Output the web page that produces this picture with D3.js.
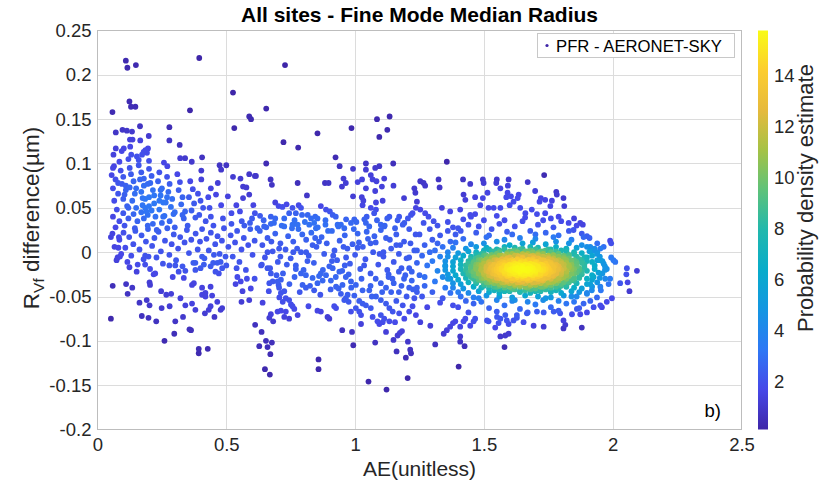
<!DOCTYPE html>
<html>
<head>
<meta charset="utf-8">
<script src="https://cdn.jsdelivr.net/npm/d3@7"></script>
<style>
  body { margin: 0; background: #ffffff; }
  svg { display: block; font-family: "Liberation Sans", Arial, sans-serif; }
</style>
</head>
<body>
<svg id="chart" width="831" height="486"></svg>
<script>
// Axis ticks
const xTicks = [0, 0.5, 1, 1.5, 2, 2.5];
const yTicks = [-0.2, -0.15, -0.1, -0.05, 0, 0.05, 0.1, 0.15, 0.2, 0.25];
const densityTicks = [2, 4, 6, 8, 10, 12, 14];

// Matchups [AE, R_Vf difference (µm)] — low Ångström exponent
const lowAeMatchups = [
  [0.110,0.216],[0.116,0.208],[0.149,0.211],[0.395,0.219],[0.526,0.180],[0.124,0.170],[0.130,0.164],[0.147,0.164],
  [0.058,0.158],[0.359,0.160],[0.589,0.153],[0.596,0.150],[0.531,0.140],[0.165,0.142],[0.097,0.138],[0.114,0.137],
  [0.134,0.136],[0.071,0.135],[0.279,0.141],[0.126,0.127],[0.136,0.127],[0.166,0.126],[0.199,0.131],[0.279,0.126],
  [0.319,0.121],[0.071,0.117],[0.102,0.117],[0.127,0.119],[0.186,0.115],[0.196,0.117],[0.179,0.113],[0.192,0.112],
  [0.173,0.110],[0.062,0.110],[0.094,0.114],[0.131,0.110],[0.153,0.108],[0.321,0.106],[0.340,0.106],[0.406,0.107],
  [0.258,0.101],[0.271,0.097],[0.366,0.102],[0.474,0.098],[0.500,0.098],[0.064,0.097],[0.055,0.087],[0.403,0.092],
  [0.403,0.082],[0.480,0.093],[0.526,0.085],[0.555,0.083],[0.589,0.088],[0.611,0.086],[0.467,0.078],[0.565,0.074],
  [0.578,0.073],[0.589,0.065],[0.605,0.053],[0.611,0.044],[0.592,0.033],[0.565,0.061],[0.506,0.063],[0.539,0.053],
  [0.553,0.046],[0.480,0.053],[0.520,0.044],[0.440,0.072],[0.460,0.065],[0.487,0.038],[0.435,0.050],
  [0.06,0.095],[0.07,0.082],[0.06,0.072],[0.08,0.066],[0.065,0.058],[0.075,0.048],[0.06,0.040],[0.085,0.035],
  [0.07,0.028],[0.09,0.092],[0.10,0.085],[0.095,0.077],[0.11,0.070],[0.10,0.060],[0.115,0.052],[0.10,0.044],
  [0.12,0.038],[0.105,0.030],[0.125,0.095],[0.13,0.088],[0.14,0.080],[0.125,0.073],[0.145,0.066],[0.135,0.058],
  [0.15,0.050],[0.14,0.043],[0.155,0.035],[0.145,0.027],[0.16,0.098],[0.17,0.090],[0.165,0.082],[0.18,0.075],
  [0.17,0.068],[0.185,0.060],[0.175,0.053],[0.19,0.046],[0.18,0.038],[0.195,0.030],[0.2,0.094],[0.21,0.086],
  [0.205,0.078],[0.215,0.070],[0.2,0.062],[0.22,0.055],[0.21,0.047],[0.225,0.040],[0.215,0.032],[0.23,0.025],
  [0.24,0.090],[0.235,0.080],[0.25,0.072],[0.245,0.064],[0.255,0.056],[0.24,0.048],[0.26,0.041],[0.25,0.033],
  [0.27,0.085],[0.28,0.077],[0.275,0.068],[0.29,0.060],[0.285,0.051],[0.295,0.043],[0.28,0.035],[0.30,0.028],
  [0.31,0.088],[0.32,0.079],[0.315,0.070],[0.33,0.062],[0.325,0.054],[0.34,0.046],[0.335,0.038],[0.35,0.030],
  [0.36,0.080],[0.37,0.071],[0.355,0.062],[0.375,0.055],[0.365,0.047],[0.38,0.039],[0.39,0.066],[0.40,0.058],
  [0.41,0.050],[0.395,0.042],[0.42,0.035],[0.43,0.062],[0.44,0.040],[0.45,0.030],[0.12,0.105],[0.16,0.104],
  [0.085,0.102],[0.2,0.103],
  [0.11,0.075],[0.15,0.072],[0.17,0.045],[0.2,0.052],[0.22,0.064],[0.24,0.058],[0.27,0.062],[0.18,0.083],
  [0.12,0.050],[0.195,0.077],[0.255,0.040],[0.30,0.045],[0.185,0.050],[0.245,0.070],[0.105,0.065],[0.08,0.078],
  [0.33,0.042],[0.175,0.061],[0.265,0.056],[0.195,0.042],
  [0.058,0.021],[0.066,0.006],[0.074,-0.009],[0.085,0.014],[0.092,-0.002],[0.101,0.022],[0.108,0.005],[0.116,-0.011],
  [0.123,0.017],[0.131,-0.004],[0.139,0.009],[0.147,0.024],[0.156,-0.014],[0.163,0.003],[0.171,0.019],[0.179,-0.008],
  [0.188,0.012],[0.196,0.026],[0.204,-0.019],[0.212,0.007],[0.221,0.016],[0.229,-0.006],[0.237,0.023],[0.246,0.001],
  [0.254,-0.013],[0.262,0.013],[0.271,0.027],[0.279,-0.003],[0.288,0.009],[0.296,0.020],[0.305,-0.009],[0.313,0.004],
  [0.321,0.017],[0.330,-0.016],[0.338,0.011],[0.347,0.025],[0.355,-0.001],[0.364,0.014],[0.372,-0.012],[0.381,0.021],
  [0.389,0.003],[0.398,0.012],[0.406,0.026],[0.415,-0.007],[0.423,0.015],[0.432,0.002],[0.440,0.022],[0.449,-0.012],
  [0.457,0.009],[0.466,0.018],[0.474,-0.002],[0.483,0.013],[0.491,0.027],[0.500,-0.015],[0.508,0.006],[0.517,0.019],
  [0.525,-0.005],[0.534,0.011],[0.542,0.024],[0.551,-0.011],[0.559,0.003],[0.568,0.016],[0.576,-0.020],[0.585,0.008],
  [0.593,0.026],[0.602,-0.003],[0.610,0.013],
  [0.052,0.017],[0.083,0.017],[0.081,0.005],[0.087,-0.005],[0.078,-0.006],[0.124,-0.017],[0.152,-0.022],[0.059,-0.038],
  [0.111,-0.036],[0.117,-0.047],[0.135,-0.040],[0.052,-0.075],[0.163,-0.057],[0.191,-0.054],[0.202,-0.060],[0.202,-0.034],
  [0.204,-0.037],[0.218,-0.025],[0.224,-0.024],[0.247,-0.044],[0.267,-0.048],[0.286,-0.047],[0.249,-0.063],[0.280,-0.061],
  [0.172,-0.072],[0.198,-0.074],[0.228,-0.078],[0.302,-0.078],[0.332,-0.073],[0.298,-0.092],[0.260,-0.100],[0.357,-0.087],
  [0.363,-0.088],[0.393,-0.109],[0.393,-0.114],[0.428,-0.109],[0.292,-0.028],[0.315,-0.022],[0.335,-0.029],[0.341,-0.021],
  [0.302,-0.015],[0.279,-0.015],[0.367,-0.037],[0.374,-0.035],[0.406,-0.040],[0.419,-0.046],[0.406,-0.048],[0.419,-0.050],
  [0.439,-0.039],[0.445,-0.049],[0.465,-0.056],[0.484,-0.063],[0.478,-0.065],[0.439,-0.061],[0.432,-0.065],[0.417,-0.069],
  [0.380,-0.065],[0.367,-0.058],[0.341,-0.060],[0.322,-0.052],[0.454,-0.073],[0.380,-0.020],[0.400,-0.018],[0.380,-0.012],
  [0.406,-0.005],[0.413,-0.014],[0.439,-0.016],[0.458,-0.022],[0.471,-0.024],[0.484,-0.018],[0.465,-0.012],[0.478,-0.011],
  [0.497,-0.005],[0.452,-0.003],[0.543,-0.028],[0.556,-0.033],[0.536,-0.036],[0.563,-0.044],[0.559,-0.056],[0.589,-0.054],
  [0.595,-0.041],[0.612,-0.082],[0.185,-0.004],[0.198,-0.005],[0.185,-0.014],
  [0.52,0.032],[0.54,-0.018],[0.56,0.035],[0.58,-0.030],[0.60,0.038],[0.57,0.030],[0.61,-0.030]
];

// Matchups — intermediate Ångström exponent
const midAeMatchups = [
  [0.728,0.211],[0.655,0.162],[1.085,0.150],[1.134,0.153],[1.125,0.138],[1.094,0.130],[0.986,0.140],[0.854,0.134],
  [0.722,0.124],[0.779,0.118],[0.924,0.107],[0.655,0.100],[0.615,0.086],[0.940,0.097],[0.992,0.094],[1.042,0.100],
  [1.042,0.093],[1.078,0.095],[1.094,0.097],[1.148,0.100],[0.672,0.082],[0.677,0.076],[0.777,0.078],[0.955,0.083],
  [0.964,0.078],[0.949,0.074],[0.883,0.078],[0.897,0.078],[1.010,0.079],[1.027,0.082],[1.061,0.087],[1.068,0.082],
  [1.083,0.080],[1.042,0.072],[1.078,0.069],[1.113,0.083],[1.104,0.074],[1.149,0.075],[0.813,0.064],[0.992,0.063],
  [1.026,0.062],[1.032,0.058],[1.029,0.053],[1.081,0.056],[1.107,0.058],[1.133,0.040],[1.190,0.061],[1.230,0.072],
  [1.234,0.067],[0.690,0.056],[0.703,0.052],[0.718,0.051],[0.734,0.054],[0.781,0.053],[0.790,0.050],[0.757,0.050],
  [0.744,0.044],[0.770,0.044],[0.794,0.042],[0.631,0.041],[0.673,0.040],[0.690,0.038],[0.647,0.029],[0.673,0.032],
  [0.816,0.042],[0.829,0.038],[0.841,0.033],[0.854,0.038],[0.848,0.027],[0.822,0.031],[0.867,0.052],[0.887,0.048],
  [0.902,0.046],[0.913,0.042],[0.932,0.031],[0.945,0.031],[0.958,0.027],[0.984,0.033],[0.997,0.037],[1.036,0.037],
  [1.042,0.033],[1.074,0.044],[1.081,0.048],[1.061,0.050],[1.100,0.031],[1.113,0.029],[1.171,0.040],[1.191,0.033],
  [1.217,0.042],[1.223,0.044],[1.236,0.050],[0.725,0.029],[0.757,0.031],[0.777,0.031],[0.621,0.027],
  [0.641,-0.057],[0.637,-0.090],[0.628,-0.106],[0.654,-0.100],[0.677,-0.102],[0.660,-0.107],[0.671,-0.115],[0.650,-0.132],
  [0.669,-0.138],[0.858,-0.121],[0.858,-0.132],[1.052,-0.146],[1.122,-0.155],[1.204,-0.142],[0.993,-0.105],[0.950,-0.088],
  [0.988,-0.090],[1.078,-0.102],[1.161,-0.112],[1.149,-0.099],[1.165,-0.094],[1.182,-0.089],[1.174,-0.091],[1.205,-0.101],
  [1.214,-0.110],[1.217,-0.114],[1.197,-0.119],[1.120,-0.090],[1.155,-0.079],[1.023,-0.081],[1.087,-0.078],[1.094,-0.081],
  [1.107,-0.079],[1.068,-0.073],[1.100,-0.071],[0.667,-0.074],[0.682,-0.078],[0.673,-0.070],[0.699,-0.067],[0.712,-0.066],
  [0.731,-0.067],[0.725,-0.073],[0.744,-0.075],[0.764,-0.064],[0.777,-0.071],[0.706,-0.051],[0.719,-0.056],[0.731,-0.052],
  [0.744,-0.054],[0.751,-0.059],[0.757,-0.061],[0.712,-0.046],[0.725,-0.044],[0.703,-0.037],[0.819,-0.061],[0.854,-0.066],
  [0.867,-0.067],[0.893,-0.073],[0.900,-0.075],[0.926,-0.063],[0.919,-0.061],[0.958,-0.054],[0.964,-0.052],[0.975,-0.056],
  [0.984,-0.067],[1.003,-0.063],[1.016,-0.067],[1.023,-0.071],[0.638,-0.014],[0.660,-0.018],[0.667,-0.035],[0.680,-0.033],
  [0.699,-0.033],[0.712,-0.031],[0.673,-0.024],[0.796,-0.037],[0.809,-0.040],[0.841,-0.043],[0.854,-0.035],[0.874,-0.032],
  [0.906,-0.032],[0.926,-0.039],[0.951,-0.037],[0.936,-0.041],[0.971,-0.048],[0.997,-0.049],[1.016,-0.055],[1.029,-0.058],
  [1.042,-0.060],[1.061,-0.063],[0.770,-0.019],[0.790,-0.024],[0.809,-0.026],[0.835,-0.029],[0.867,-0.024],[0.887,-0.026],
  [0.913,-0.018],[0.939,-0.022],[0.964,-0.028],[0.984,-0.033],[1.003,-0.037],[1.029,-0.043],[1.055,-0.043],[1.081,-0.050],
  [1.100,-0.054],[1.120,-0.058],[1.133,-0.063],[1.146,-0.067],[1.113,-0.075],[1.133,-0.078],[1.171,-0.069],[1.191,-0.075],
  [1.210,-0.067],[1.223,-0.061],[1.236,-0.071],
  [1.15,-0.035],[1.17,-0.045],[1.19,-0.030],[1.21,-0.040],[1.23,-0.052],[1.16,-0.055],[1.20,-0.050],[1.22,-0.032],
  [1.18,-0.038],[1.24,-0.045],[1.14,-0.045],[1.12,-0.040],[1.10,-0.035],[1.08,-0.030],[1.06,-0.038],[1.13,-0.025],
  [1.17,-0.022],[1.21,-0.018],
  [0.63,0.024],[0.64,0.008],[0.65,-0.006],[0.66,0.016],[0.67,-0.018],[0.68,0.001],[0.69,0.021],[0.70,-0.011],
  [0.71,0.010],[0.72,-0.024],[0.73,0.003],[0.74,0.018],[0.75,-0.007],[0.76,0.012],[0.77,-0.015],[0.78,0.026],
  [0.79,0.000],[0.80,-0.020],[0.81,0.014],[0.82,-0.004],[0.83,0.022],[0.84,-0.012],[0.85,0.006],[0.86,-0.027],
  [0.87,0.017],[0.88,-0.002],[0.89,0.010],[0.90,-0.016],[0.91,0.024],[0.92,0.002],[0.93,-0.009],[0.94,0.013],
  [0.95,-0.021],[0.96,0.019],[0.97,0.004],[0.98,-0.013],[0.99,0.009],[1.00,-0.003],[1.01,0.021],[1.02,-0.019],
  [1.03,0.006],[1.04,-0.008],[1.05,0.015],[1.06,-0.024],[1.07,0.000],[1.08,0.011],[1.09,-0.014],[1.10,0.025],
  [1.11,-0.005],[1.12,0.016],[1.13,-0.028],[1.14,0.004],[1.15,-0.011],[1.16,0.020],[1.17,-0.002],[1.18,-0.018],
  [1.19,0.012],[1.20,-0.007],[1.21,0.026],[1.22,-0.022],[1.23,0.002],[1.24,-0.012],
  [0.635,-0.015],[0.655,0.028],[0.675,0.012],[0.695,-0.026],[0.715,0.030],[0.735,-0.014],[0.755,0.027],[0.775,0.004],
  [0.795,0.020],[0.815,-0.010],[0.835,0.008],[0.855,0.028],[0.875,-0.020],[0.895,0.024],[0.915,-0.004],[0.935,0.029],
  [0.955,0.006],[0.975,-0.025],[0.995,0.026],[1.015,0.011],[1.035,-0.015],[1.055,0.029],[1.075,0.018],[1.095,-0.002],
  [1.115,0.030],[1.135,0.014],[1.155,0.027],[1.175,0.008],[1.195,-0.026],[1.215,0.010],[1.235,0.020],[0.705,0.004],
  [0.765,-0.028],[0.845,0.016],[0.925,-0.028],[1.045,0.023],[1.125,-0.020],[1.185,0.031],[0.885,0.031],[0.965,-0.006],
  [0.645,0.036],[0.665,-0.044],[0.685,0.033],[0.705,-0.040],[0.725,0.038],[0.745,-0.036],[0.765,0.036],[0.785,-0.045],
  [0.805,0.034],[0.825,-0.038],[0.845,0.040],[0.865,-0.048],[0.885,0.036],[0.905,-0.042],[0.925,0.040],[0.945,-0.047],
  [0.965,0.037],[0.985,-0.040],[1.005,0.034],[1.025,-0.030],[1.045,0.040],[1.065,-0.050],[1.085,0.036],[1.105,-0.045],
  [1.125,0.038],[1.145,-0.030],[1.165,0.036],[1.185,-0.060],[1.205,0.038],[1.225,-0.042],[0.81,0.000],[0.86,0.012],
  [0.91,-0.010],[0.96,-0.015],[1.01,0.005],[1.06,0.010],[1.11,0.000],[1.16,0.008],[1.21,-0.006],[0.71,-0.005],
  [0.76,0.000],[0.66,0.000]
];

// Matchups — high Ångström exponent (fine-mode dominated)
const highAeMatchups = [
  [1.356,0.102],[1.253,0.080],[1.266,0.078],[1.272,0.075],[1.324,0.082],[1.328,0.073],[1.419,0.082],[1.447,0.077],
  [1.496,0.082],[1.499,0.078],[1.550,0.082],[1.548,0.078],[1.564,0.072],[1.596,0.082],[1.593,0.075],[1.670,0.079],
  [1.734,0.087],[1.514,0.067],[1.421,0.065],[1.428,0.059],[1.466,0.062],[1.592,0.067],[1.605,0.063],[1.587,0.062],
  [1.615,0.057],[1.600,0.053],[1.635,0.065],[1.631,0.061],[1.699,0.069],[1.721,0.061],[1.716,0.057],[1.738,0.059],
  [1.764,0.058],[1.781,0.068],[1.783,0.065],[1.809,0.061],[1.812,0.052],[1.496,0.061],[1.486,0.053],[1.518,0.050],
  [1.538,0.050],[1.564,0.050],[1.337,0.050],[1.369,0.046],[1.408,0.048],[1.447,0.042],[1.466,0.043],[1.240,0.057],
  [1.253,0.048],[1.272,0.044],[1.285,0.040],[1.305,0.035],[1.266,0.033],[1.641,0.050],[1.661,0.044],[1.686,0.048],
  [1.706,0.043],[1.738,0.044],[1.758,0.052],[1.790,0.040],[1.829,0.033],[1.848,0.025],
  [1.311,-0.104],[1.408,-0.095],[1.408,-0.101],[1.425,-0.106],[1.402,-0.129],[1.564,-0.095],[1.583,-0.094],[1.596,-0.092],
  [1.580,-0.107],[1.344,-0.092],[1.356,-0.088],[1.369,-0.084],[1.380,-0.080],[1.389,-0.078],[1.408,-0.084],[1.421,-0.078],
  [1.428,-0.075],[1.447,-0.083],[1.460,-0.078],[1.466,-0.075],[1.512,-0.077],[1.518,-0.078],[1.544,-0.085],[1.557,-0.080],
  [1.564,-0.075],[1.589,-0.077],[1.596,-0.081],[1.615,-0.077],[1.628,-0.074],[1.654,-0.079],[1.693,-0.083],[1.732,-0.084],
  [1.809,-0.077],[1.816,-0.082],[1.809,-0.086],[1.292,-0.083],[1.253,-0.079],[1.551,-0.073],[1.583,-0.071],[1.628,-0.071],
  [1.667,-0.069],[1.706,-0.067],[1.732,-0.068],[1.771,-0.067],[1.796,-0.069],[1.842,-0.070],
  [1.874,0.033],[1.884,0.031],[1.887,0.017],[1.900,0.018],[1.990,0.013],[1.994,0.010],[1.952,0.004],[1.965,0.006],
  [1.994,-0.006],[2.003,-0.009],[2.010,-0.011],[2.055,-0.018],[2.094,-0.021],[2.053,-0.025],[2.029,-0.035],[2.058,-0.034],
  [2.065,-0.044],[1.997,-0.052],[1.977,-0.056],[1.952,-0.060],[1.926,-0.062],[1.958,-0.062],[1.880,-0.085],[1.900,-0.068],
  [1.874,-0.070],[1.861,-0.064],[1.971,-0.030],[1.984,-0.036],[1.990,-0.030],[1.952,-0.039],[1.954,-0.043],[1.939,-0.051],
  [1.913,-0.055],[1.900,-0.047],[1.919,-0.043],[1.887,-0.058],[1.926,0.002],[1.913,0.006],[1.939,-0.002],[1.900,-0.006],
  [1.952,-0.009],[1.965,-0.013],[1.977,-0.019],[1.945,-0.023],[1.926,-0.028],[1.913,-0.036],
  [1.25,0.020],[1.27,0.008],[1.26,-0.004],[1.28,-0.015],[1.25,-0.026],[1.27,-0.038],[1.26,-0.050],[1.29,0.026],
  [1.30,0.014],[1.31,0.002],[1.30,-0.010],[1.32,-0.021],[1.31,-0.033],[1.30,-0.045],[1.33,-0.057],[1.33,0.019],
  [1.34,0.006],[1.33,-0.005],[1.35,-0.016],[1.34,-0.028],[1.35,-0.040],[1.34,-0.052],[1.36,0.024],[1.37,0.012],
  [1.36,-0.030],[1.37,-0.046],[1.38,-0.060],[1.39,0.020],[1.40,0.027],[1.28,-0.062],[1.24,0.002],[1.24,-0.040],
  [1.29,0.000],[1.32,0.010],[1.27,-0.028],
  [1.32,0.030],[1.36,0.034],[1.41,0.024],[1.44,0.031],[1.47,0.022],[1.50,0.036],[1.53,0.026],[1.56,0.032],
  [1.59,0.023],[1.62,0.029],[1.65,0.035],[1.68,0.024],[1.71,0.031],[1.74,0.022],[1.77,0.028],[1.80,0.035],
  [1.83,0.024],[1.86,0.030],[1.45,0.040],[1.55,0.041],[1.66,0.039],[1.76,0.038],[1.61,0.020],[1.70,0.020],
  [1.52,0.019],[1.79,0.019],[1.88,0.021],[1.42,0.037],[1.38,0.028],[1.48,0.029],[1.58,0.036],[1.73,0.036],[1.85,0.038],
  [1.40,-0.062],[1.46,-0.058],[1.52,-0.063],[1.58,-0.060],[1.64,-0.064],[1.70,-0.059],[1.76,-0.062],[1.82,-0.058],
  [1.87,-0.063],[1.44,-0.068],[1.55,-0.067],[1.67,-0.068],[1.79,-0.066],[1.48,-0.052],[1.62,-0.054],[1.74,-0.052],[1.84,-0.050],
  [1.42,0.015],[1.51,0.017],[1.58,0.014],[1.64,0.016],[1.70,0.015],[1.77,0.017],[1.84,0.014],[1.91,0.016],
  [1.39,0.011],[1.45,0.009],[1.50,0.010],[1.55,0.012],[1.60,0.008],[1.65,0.010],[1.69,0.011],[1.74,0.009],
  [1.78,0.012],[1.83,0.010],[1.88,0.008],[1.94,0.010],
  [1.38,0.005],[1.43,0.004],[1.47,0.006],[1.51,0.005],[1.55,0.003],[1.58,0.006],[1.62,0.005],[1.65,0.004],
  [1.68,0.006],[1.71,0.005],[1.75,0.003],[1.78,0.006],[1.82,0.004],[1.86,0.005],[1.90,0.006],[1.93,0.004],
  [1.36,0.000],[1.40,-0.001],[1.44,0.001],[1.47,0.000],[1.50,-0.002],[1.53,0.001],[1.56,0.000],[1.59,-0.001],
  [1.61,0.001],[1.63,0.000],[1.65,-0.002],[1.67,0.001],[1.69,0.000],[1.71,-0.001],[1.73,0.001],[1.76,0.000],
  [1.79,-0.002],[1.82,0.001],[1.85,0.000],[1.88,-0.001],[1.91,0.001],[1.94,0.000],
  [1.36,-0.005],[1.39,-0.006],[1.42,-0.004],[1.45,-0.005],[1.48,-0.006],[1.50,-0.004],[1.52,-0.005],[1.54,-0.006],
  [1.56,-0.004],[1.58,-0.005],[1.60,-0.006],[1.62,-0.004],[1.635,-0.005],[1.65,-0.006],[1.665,-0.004],[1.68,-0.005],
  [1.695,-0.006],[1.71,-0.004],[1.73,-0.005],[1.75,-0.006],[1.77,-0.004],[1.79,-0.005],[1.81,-0.006],[1.83,-0.004],
  [1.86,-0.005],[1.89,-0.006],[1.92,-0.004],[1.95,-0.005],
  [1.35,-0.010],[1.38,-0.011],[1.41,-0.009],[1.44,-0.010],[1.46,-0.011],[1.48,-0.009],[1.50,-0.010],[1.52,-0.011],
  [1.54,-0.009],[1.555,-0.010],[1.57,-0.011],[1.585,-0.009],[1.60,-0.010],[1.615,-0.011],[1.63,-0.009],[1.645,-0.010],
  [1.66,-0.011],[1.675,-0.009],[1.69,-0.010],[1.705,-0.011],[1.72,-0.009],[1.735,-0.010],[1.75,-0.011],[1.765,-0.009],
  [1.78,-0.010],[1.80,-0.011],[1.82,-0.009],[1.84,-0.010],[1.86,-0.011],[1.88,-0.009],[1.90,-0.010],[1.92,-0.011],
  [1.94,-0.009],[1.96,-0.010],
  [1.35,-0.015],[1.38,-0.016],[1.41,-0.014],[1.43,-0.015],[1.45,-0.016],[1.47,-0.014],[1.49,-0.015],[1.51,-0.016],
  [1.525,-0.014],[1.54,-0.015],[1.555,-0.016],[1.57,-0.014],[1.58,-0.015],[1.59,-0.016],[1.60,-0.014],[1.61,-0.015],
  [1.62,-0.016],[1.63,-0.014],[1.64,-0.015],[1.65,-0.016],[1.66,-0.014],[1.67,-0.015],[1.68,-0.016],[1.69,-0.014],
  [1.70,-0.015],[1.71,-0.016],[1.72,-0.014],[1.73,-0.015],[1.745,-0.016],[1.76,-0.014],[1.775,-0.015],[1.79,-0.016],
  [1.81,-0.014],[1.83,-0.015],[1.86,-0.016],[1.89,-0.014],[1.93,-0.015],[1.97,-0.016],
  [1.35,-0.020],[1.38,-0.021],[1.41,-0.019],[1.43,-0.020],[1.45,-0.021],[1.47,-0.019],[1.49,-0.020],[1.51,-0.021],
  [1.525,-0.019],[1.54,-0.020],[1.55,-0.021],[1.56,-0.019],[1.57,-0.020],[1.58,-0.021],[1.59,-0.019],[1.60,-0.020],
  [1.61,-0.021],[1.62,-0.019],[1.63,-0.020],[1.64,-0.021],[1.65,-0.019],[1.66,-0.020],[1.67,-0.021],[1.68,-0.019],
  [1.69,-0.020],[1.70,-0.021],[1.71,-0.019],[1.72,-0.020],[1.73,-0.021],[1.74,-0.019],[1.755,-0.020],[1.77,-0.021],
  [1.785,-0.019],[1.80,-0.020],[1.82,-0.021],[1.84,-0.019],[1.87,-0.020],[1.90,-0.021],[1.93,-0.019],[1.97,-0.020],
  [1.36,-0.025],[1.39,-0.026],[1.42,-0.024],[1.44,-0.025],[1.46,-0.026],[1.48,-0.024],[1.50,-0.025],[1.52,-0.026],
  [1.535,-0.024],[1.55,-0.025],[1.565,-0.026],[1.58,-0.024],[1.59,-0.025],[1.60,-0.026],[1.61,-0.024],[1.62,-0.025],
  [1.63,-0.026],[1.64,-0.024],[1.65,-0.025],[1.66,-0.026],[1.67,-0.024],[1.68,-0.025],[1.69,-0.026],[1.70,-0.024],
  [1.71,-0.025],[1.72,-0.026],[1.735,-0.024],[1.75,-0.025],[1.765,-0.026],[1.78,-0.024],[1.80,-0.025],[1.82,-0.026],
  [1.85,-0.024],[1.88,-0.025],[1.92,-0.026],[1.96,-0.024],
  [1.37,-0.030],[1.40,-0.031],[1.43,-0.029],[1.46,-0.030],[1.48,-0.031],[1.50,-0.029],[1.52,-0.030],[1.54,-0.031],
  [1.56,-0.029],[1.575,-0.030],[1.59,-0.031],[1.605,-0.029],[1.62,-0.030],[1.635,-0.031],[1.65,-0.029],[1.665,-0.030],
  [1.68,-0.031],[1.695,-0.029],[1.71,-0.030],[1.725,-0.031],[1.74,-0.029],[1.76,-0.030],[1.78,-0.031],[1.80,-0.029],
  [1.82,-0.030],[1.84,-0.031],[1.87,-0.029],[1.90,-0.030],[1.92,-0.031],[1.95,-0.029],
  [1.38,-0.035],[1.41,-0.036],[1.44,-0.034],[1.47,-0.035],[1.50,-0.036],[1.52,-0.034],[1.54,-0.035],[1.56,-0.036],
  [1.58,-0.034],[1.60,-0.035],[1.62,-0.036],[1.64,-0.034],[1.66,-0.035],[1.68,-0.036],[1.70,-0.034],[1.72,-0.035],
  [1.74,-0.036],[1.76,-0.034],[1.78,-0.035],[1.80,-0.036],[1.83,-0.034],[1.86,-0.035],[1.90,-0.036],[1.94,-0.034],
  [1.38,-0.040],[1.42,-0.041],[1.46,-0.039],[1.49,-0.040],[1.52,-0.041],[1.55,-0.039],[1.58,-0.040],[1.61,-0.041],
  [1.64,-0.039],[1.67,-0.040],[1.70,-0.041],[1.73,-0.039],[1.76,-0.040],[1.79,-0.041],[1.82,-0.039],[1.85,-0.040],
  [1.88,-0.041],[1.92,-0.039],
  [1.40,-0.045],[1.44,-0.046],[1.48,-0.044],[1.52,-0.045],[1.56,-0.046],[1.60,-0.044],[1.64,-0.045],[1.68,-0.046],
  [1.72,-0.044],[1.76,-0.045],[1.80,-0.046],[1.84,-0.044],[1.87,-0.045],[1.90,-0.046],
  [1.41,-0.050],[1.46,-0.051],[1.51,-0.049],[1.56,-0.050],[1.61,-0.051],[1.66,-0.049],[1.71,-0.050],[1.76,-0.051],
  [1.81,-0.049],[1.86,-0.050],
  [1.43,-0.055],[1.49,-0.056],[1.55,-0.054],[1.61,-0.055],[1.67,-0.056],[1.73,-0.054],[1.79,-0.055],[1.85,-0.056],
  [1.50,0.002],[1.52,0.003],[1.54,0.001],[1.56,0.002],[1.58,0.003],[1.60,0.001],[1.62,0.002],[1.64,0.003],
  [1.66,0.001],[1.68,0.002],[1.70,0.003],[1.72,0.001],[1.74,0.002],[1.76,0.003],[1.78,0.001],[1.80,0.002],[1.82,0.003],
  [1.47,-0.003],[1.49,-0.002],[1.51,-0.004],[1.53,-0.003],[1.55,-0.002],[1.57,-0.004],[1.59,-0.003],[1.61,-0.002],
  [1.63,-0.004],[1.65,-0.003],[1.67,-0.002],[1.69,-0.004],[1.71,-0.003],[1.73,-0.002],[1.75,-0.004],[1.77,-0.003],
  [1.79,-0.002],[1.81,-0.004],[1.83,-0.003],[1.85,-0.002],
  [1.45,-0.008],[1.47,-0.007],[1.49,-0.009],[1.51,-0.008],[1.53,-0.007],[1.55,-0.009],[1.57,-0.008],[1.59,-0.007],
  [1.61,-0.009],[1.63,-0.008],[1.65,-0.007],[1.67,-0.009],[1.69,-0.008],[1.71,-0.007],[1.73,-0.009],[1.75,-0.008],
  [1.77,-0.007],[1.79,-0.009],[1.81,-0.008],[1.83,-0.007],[1.85,-0.009],[1.87,-0.008],
  [1.44,-0.013],[1.46,-0.012],[1.48,-0.014],[1.50,-0.013],[1.52,-0.012],[1.54,-0.014],[1.56,-0.013],[1.58,-0.012],
  [1.60,-0.014],[1.62,-0.013],[1.64,-0.012],[1.66,-0.014],[1.68,-0.013],[1.70,-0.012],[1.72,-0.014],[1.74,-0.013],
  [1.76,-0.012],[1.78,-0.014],[1.80,-0.013],[1.82,-0.012],[1.84,-0.014],[1.86,-0.013],[1.88,-0.012],
  [1.45,-0.018],[1.47,-0.017],[1.49,-0.019],[1.51,-0.018],[1.53,-0.017],[1.55,-0.019],[1.57,-0.018],[1.59,-0.017],
  [1.61,-0.019],[1.63,-0.018],[1.65,-0.017],[1.67,-0.019],[1.69,-0.018],[1.71,-0.017],[1.73,-0.019],[1.75,-0.018],
  [1.77,-0.017],[1.79,-0.019],[1.81,-0.018],[1.83,-0.017],[1.85,-0.019],[1.87,-0.018],[1.89,-0.017],
  [1.44,-0.023],[1.46,-0.022],[1.48,-0.024],[1.50,-0.023],[1.52,-0.022],[1.54,-0.024],[1.56,-0.023],[1.58,-0.022],
  [1.60,-0.024],[1.62,-0.023],[1.64,-0.022],[1.66,-0.024],[1.68,-0.023],[1.70,-0.022],[1.72,-0.024],[1.74,-0.023],
  [1.76,-0.022],[1.78,-0.024],[1.80,-0.023],[1.82,-0.022],[1.84,-0.024],[1.86,-0.023],[1.88,-0.022],
  [1.45,-0.028],[1.47,-0.027],[1.49,-0.029],[1.51,-0.028],[1.53,-0.027],[1.55,-0.029],[1.57,-0.028],[1.59,-0.027],
  [1.61,-0.029],[1.63,-0.028],[1.65,-0.027],[1.67,-0.029],[1.69,-0.028],[1.71,-0.027],[1.73,-0.029],[1.75,-0.028],
  [1.77,-0.027],[1.79,-0.029],[1.81,-0.028],[1.83,-0.027],[1.85,-0.029],[1.87,-0.028],
  [1.47,-0.033],[1.49,-0.032],[1.51,-0.034],[1.53,-0.033],[1.55,-0.032],[1.57,-0.034],[1.59,-0.033],[1.61,-0.032],
  [1.63,-0.034],[1.65,-0.033],[1.67,-0.032],[1.69,-0.034],[1.71,-0.033],[1.73,-0.032],[1.75,-0.034],[1.77,-0.033],
  [1.79,-0.032],[1.81,-0.034],[1.83,-0.033],[1.85,-0.032],
  [1.50,-0.038],[1.52,-0.037],[1.54,-0.039],[1.56,-0.038],[1.58,-0.037],[1.60,-0.039],[1.62,-0.038],[1.64,-0.037],
  [1.66,-0.039],[1.68,-0.038],[1.70,-0.037],[1.72,-0.039],[1.74,-0.038],[1.76,-0.037],[1.78,-0.039],[1.80,-0.038],[1.82,-0.037],
  [1.54,-0.043],[1.56,-0.042],[1.58,-0.044],[1.60,-0.043],[1.62,-0.042],[1.64,-0.044],[1.66,-0.043],[1.68,-0.042],
  [1.70,-0.044],[1.72,-0.043],[1.74,-0.042],[1.76,-0.044],[1.78,-0.043]
];

// Parula-like colour ramp (stop positions spread evenly over the density range)
const parulaStops = ["#3e26a8","#4748e8","#2e78f5","#1496e2","#08acca","#21b8ad","#5ec27a","#a5c245","#e6ba3d","#fccd2e","#f9fb15"];

const plot = { left: 97.5, right: 741.5, top: 30.5, bottom: 429.5 };
const cbar = { left: 758, width: 10 };

const svg = d3.select("#chart");

const x = d3.scaleLinear().domain([0, 2.5]).range([plot.left, plot.right]);
const y = d3.scaleLinear().domain([-0.2, 0.25]).range([plot.bottom, plot.top]);

// Points and a 2-D Gaussian kernel density estimate
const points = lowAeMatchups.concat(midAeMatchups, highAeMatchups).map(([ae, r]) => ({ ae, r }));
const hx = 0.09, hy = 0.011;
const n = points.length;
const norm = 1 / (2 * Math.PI * hx * hy * n);
points.forEach(p => {
  let s = 0;
  for (const q of points) {
    const u = (p.ae - q.ae) / hx, v = (p.r - q.r) / hy;
    const d2 = u * u + v * v;
    if (d2 < 36) s += Math.exp(-0.5 * d2);
  }
  p.density = s * norm;
});
points.sort((a, b) => a.density - b.density);
const dExtent = d3.extent(points, p => p.density);

const colour = d3.scaleLinear()
  .domain(parulaStops.map((_, i) => dExtent[0] + i * (dExtent[1] - dExtent[0]) / (parulaStops.length - 1)))
  .range(parulaStops)
  .interpolate(d3.interpolateRgb)
  .clamp(true);

// Grid
const grid = svg.append("g");
grid.selectAll("line.gx").data(xTicks.slice(1, -1)).join("line")
  .attr("x1", d => Math.round(x(d)) + 0.5).attr("x2", d => Math.round(x(d)) + 0.5)
  .attr("y1", plot.top).attr("y2", plot.bottom)
  .attr("stroke", "#dcdcdc").attr("stroke-width", 1);
grid.selectAll("line.gy").data(yTicks.slice(1, -1)).join("line")
  .attr("y1", d => Math.round(y(d)) + 0.5).attr("y2", d => Math.round(y(d)) + 0.5)
  .attr("x1", plot.left).attr("x2", plot.right)
  .attr("stroke", "#dcdcdc").attr("stroke-width", 1);

// Scatter
svg.append("defs").append("clipPath").attr("id", "plotClip")
  .append("rect").attr("x", plot.left).attr("y", plot.top)
  .attr("width", plot.right - plot.left).attr("height", plot.bottom - plot.top);

svg.append("g").attr("clip-path", "url(#plotClip)")
  .selectAll("circle").data(points).join("circle")
  .attr("cx", d => x(d.ae)).attr("cy", d => y(d.r))
  .attr("r", 2.9)
  .attr("fill", d => colour(d.density));

// Axes frame
svg.append("rect")
  .attr("x", plot.left).attr("y", plot.top)
  .attr("width", plot.right - plot.left).attr("height", plot.bottom - plot.top)
  .attr("fill", "none").attr("stroke", "#bdbdbd").attr("stroke-width", 1);

// Axes with tick labels
const xAxis = d3.axisBottom(x).tickValues(xTicks).tickSize(0).tickPadding(8).tickFormat(d => String(d));
const gx = svg.append("g").attr("transform", `translate(0,${plot.bottom})`).call(xAxis);
gx.select(".domain").remove();
gx.selectAll("text").attr("font-size", 18.5).attr("fill", "#262626").attr("font-family", "Liberation Sans, Arial, sans-serif");

const yAxis = d3.axisLeft(y).tickValues(yTicks).tickSize(0).tickPadding(6).tickFormat(d => String(d));
const gy = svg.append("g").attr("transform", `translate(${plot.left},0)`).call(yAxis);
gy.select(".domain").remove();
gy.selectAll("text").attr("font-size", 18.5).attr("fill", "#262626").attr("font-family", "Liberation Sans, Arial, sans-serif");

// Title and axis labels
svg.append("text")
  .attr("x", (plot.left + plot.right) / 2).attr("y", 22)
  .attr("text-anchor", "middle").attr("font-size", 21).attr("font-weight", "bold").attr("fill", "#000")
  .text("All sites - Fine Mode Median Radius");

svg.append("text")
  .attr("x", (plot.left + plot.right) / 2).attr("y", 476)
  .attr("text-anchor", "middle").attr("font-size", 21).attr("fill", "#262626")
  .text("AE(unitless)");

const yl = svg.append("text")
  .attr("transform", `translate(39,218) rotate(-90)`)
  .attr("text-anchor", "middle").attr("font-size", 22.5).attr("fill", "#262626");
yl.append("tspan").text("R");
yl.append("tspan").attr("font-size", 15.5).attr("dy", 5).text("Vf");
yl.append("tspan").attr("dy", -5).text(" difference(µm)");

// Panel tag
svg.append("text")
  .attr("x", 721).attr("y", 417)
  .attr("text-anchor", "end").attr("font-size", 18.5).attr("fill", "#000")
  .text("b)");

// Legend
const lg = svg.append("g");
lg.append("rect").attr("x", 537.5).attr("y", 33.5).attr("width", 197).attr("height", 24)
  .attr("fill", "#fff").attr("stroke", "#c8c8c8").attr("stroke-width", 1);
lg.append("circle").attr("cx", 547).attr("cy", 45.5).attr("r", 1.6).attr("fill", parulaStops[0]);
lg.append("text").attr("x", 556).attr("y", 51.5).attr("font-size", 16.7).attr("fill", "#000")
  .text("PFR - AERONET-SKY");

// Colour bar
const cy = d3.scaleLinear().domain(dExtent).range([plot.bottom, plot.top]);
const grad = svg.select("defs").append("linearGradient").attr("id", "cbGrad")
  .attr("x1", 0).attr("x2", 0).attr("y1", 1).attr("y2", 0);
parulaStops.forEach((c, i) => grad.append("stop").attr("offset", i / (parulaStops.length - 1)).attr("stop-color", c));
svg.append("rect").attr("x", cbar.left).attr("y", plot.top)
  .attr("width", cbar.width).attr("height", plot.bottom - plot.top)
  .attr("fill", "url(#cbGrad)");

const cAxis = d3.axisRight(cy).tickValues(densityTicks).tickSize(0).tickPadding(6).tickFormat(d => String(d));
const gc = svg.append("g").attr("transform", `translate(${cbar.left + cbar.width},0)`).call(cAxis);
gc.select(".domain").remove();
gc.selectAll("text").attr("font-size", 18.5).attr("fill", "#262626").attr("font-family", "Liberation Sans, Arial, sans-serif");

svg.append("text")
  .attr("transform", `translate(813,198) rotate(-90)`)
  .attr("text-anchor", "middle").attr("font-size", 22).attr("fill", "#262626")
  .text("Probability density estimate");
</script>
</body>
</html>
